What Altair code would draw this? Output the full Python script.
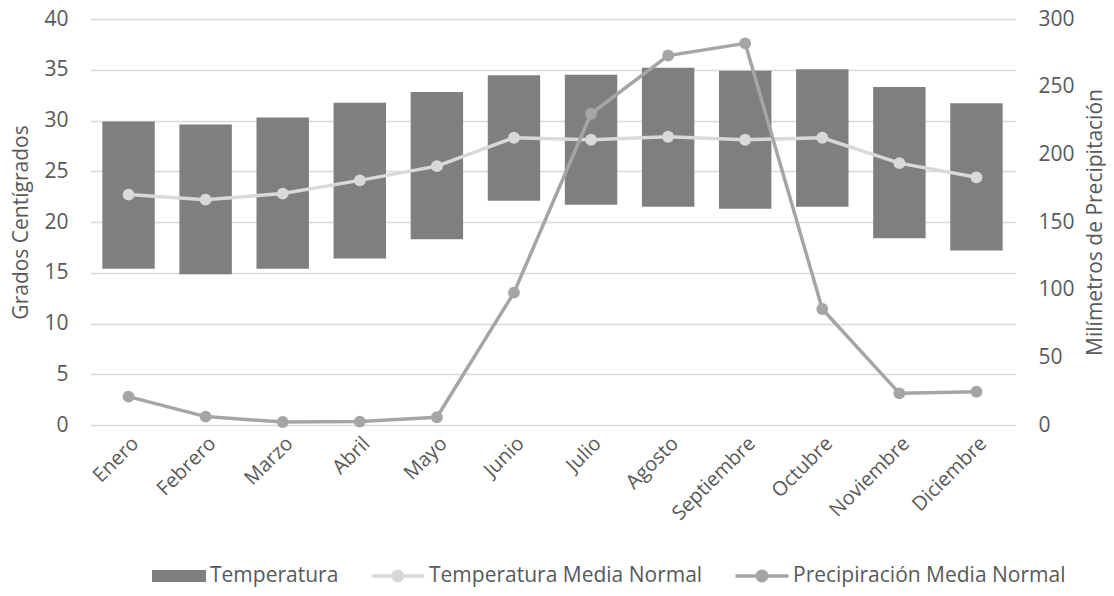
import altair as alt
import pandas as pd

meses = ["Enero", "Febrero", "Marzo", "Abril", "Mayo", "Junio", "Julio",
         "Agosto", "Septiembre", "Octubre", "Noviembre", "Diciembre"]
temp_min = [15.4, 14.85, 15.4, 16.4, 18.3, 22.1, 21.7, 21.5, 21.3, 21.5, 18.4, 17.2]
temp_max = [29.9, 29.6, 30.3, 31.75, 32.8, 34.45, 34.5, 35.2, 34.9, 35.05, 33.3, 31.7]
temp_media = [22.7, 22.2, 22.8, 24.1, 25.5, 28.3, 28.1, 28.4, 28.1, 28.3, 25.8, 24.4]
precip = [21, 6.2, 2.2, 2.5, 5.7, 97.8, 230, 273, 282, 85.7, 23.4, 24.6]

series = ["Temperatura", "Temperatura Media Normal", "Precipiración Media Normal"]
colores = ["#7f7f7f", "#d9d9d9", "#a5a5a5"]

df = pd.DataFrame({"mes": meses, "tmin": temp_min, "tmax": temp_max,
                   "tmedia": temp_media, "precip": precip})
df_leg = pd.DataFrame({"serie": series, "mes": meses[:3], "v": temp_media[:3]})

FONT = "Open Sans"
TXT = "#595959"
GRID = "#d9d9d9"

x_enc = alt.X("mes:N", sort=meses, title=None,
              scale=alt.Scale(paddingInner=0.32, paddingOuter=0.16),
              axis=alt.Axis(labelAngle=-45, domain=False, ticks=False,
                            labelPadding=8, labelFontSize=20, labelColor=TXT,
                            labelFont=FONT, grid=False))

y_left = alt.Y("tmin:Q", title="Grados Centígrados",
               scale=alt.Scale(domain=[0, 40], nice=False),
               axis=alt.Axis(values=list(range(0, 41, 5)), domain=False, ticks=False,
                             grid=True, gridColor=GRID, gridWidth=1.3,
                             labelPadding=22, labelFontSize=21, labelColor=TXT,
                             labelFont=FONT, titleFontSize=21, titleColor=TXT,
                             titleFont=FONT, titleFontWeight="normal", titlePadding=12))

bars = alt.Chart(df).mark_bar(color="#7f7f7f").encode(
    x=x_enc, y=y_left, y2="tmax:Q")

tline = alt.Chart(df).mark_line(color="#d9d9d9", strokeWidth=3.5).encode(
    x=x_enc, y="tmedia:Q")
tpts = alt.Chart(df).mark_point(filled=True, color="#d9d9d9", size=140, opacity=1).encode(
    x=x_enc, y="tmedia:Q")

shape_paths = [
    "M-1,-0.222H1V0.222H-1Z",
    "M-0.98,-0.063H0.98V0.063H-0.98Z M0.24,0A0.24,0.24 0 1,1 -0.24,0A0.24,0.24 0 1,1 0.24,0Z",
    "M-0.98,-0.063H0.98V0.063H-0.98Z M0.24,0A0.24,0.24 0 1,1 -0.24,0A0.24,0.24 0 1,1 0.24,0Z",
]
hidden = alt.Chart(df_leg).mark_point(filled=True, opacity=0).encode(
    x=x_enc, y="v:Q",
    color=alt.Color("serie:N", title=None, scale=alt.Scale(domain=series, range=colores)),
    shape=alt.Shape("serie:N", title=None, scale=alt.Scale(domain=series, range=shape_paths)),
)

left = alt.layer(bars, tline, tpts, hidden)

y_right = alt.Y("precip:Q", title="Milímetros de Precipitación",
                scale=alt.Scale(domain=[0, 300], nice=False),
                axis=alt.Axis(orient="right", values=list(range(0, 301, 50)),
                              domain=False, ticks=False, grid=False,
                              labelPadding=23, labelFontSize=21, labelColor=TXT,
                              labelFont=FONT, titleFontSize=21, titleColor=TXT,
                              titleFont=FONT, titleFontWeight="normal",
                              titleAngle=270, titlePadding=31))

pline = alt.Chart(df).mark_line(color="#a5a5a5", strokeWidth=3.5).encode(
    x=x_enc, y=y_right)
ppts = alt.Chart(df).mark_point(filled=True, color="#a5a5a5", size=140, opacity=1).encode(
    x=x_enc, y="precip:Q")

right = alt.layer(pline, ppts)

chart = alt.layer(left, right).resolve_scale(y="independent").properties(
    width=925, height=406,
    padding={"left": 82, "top": 11, "right": 91, "bottom": 162},
    autosize=alt.AutoSizeParams(type="none"),
).configure_view(stroke=None).configure_legend(
    orient="none", legendX=62, legendY=530, direction="horizontal",
    labelFontSize=21, labelColor=TXT, labelFont=FONT, labelLimit=400,
    symbolSize=2916, symbolStrokeWidth=0, labelOffset=4, columnPadding=32,
    padding=0, symbolOpacity=1,
)

chart.save("out.html", embed_options={"renderer": "svg", "actions": False})
